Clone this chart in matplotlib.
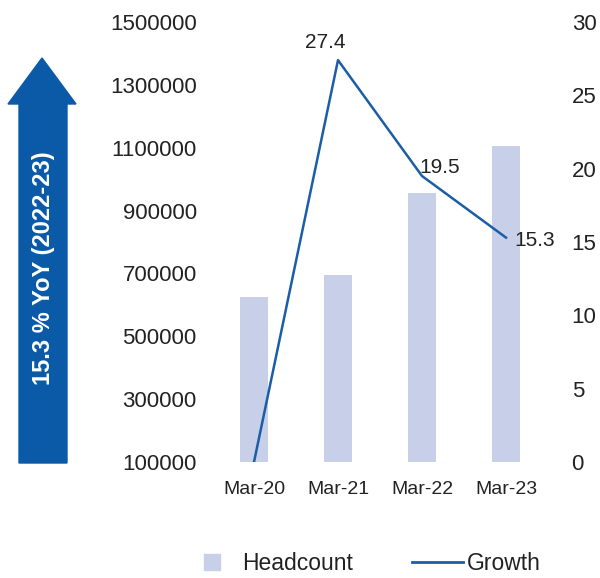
import matplotlib
matplotlib.use("Agg")
import matplotlib.pyplot as plt
import numpy as np
from matplotlib.lines import Line2D
from matplotlib.patches import Polygon
from matplotlib.ticker import FuncFormatter

plt.rcParams['font.family'] = ['Liberation Sans', 'DejaVu Sans']

periods = ["Mar-20", "Mar-21", "Mar-22", "Mar-23"]
headcount = [625000, 695000, 955000, 1105000]
growth = [0, 27.4, 19.5, 15.3]
growth_labels = [None, "27.4", "19.5", "15.3"]
callout = "15.3 % YoY (2022-23)"

bar_colour = "#c8cfe8"
line_colour = "#1a5ea8"
arrow_colour = "#0b5aa8"
text_colour = "#222222"

W, H = 600, 578
fig = plt.figure(figsize=(W / 100, H / 100), dpi=100)
ax = fig.add_axes([212 / W, 116 / H, 336 / W, 440 / H])
ax2 = ax.twinx()

x = np.arange(len(periods))
base = 100000
ax.bar(x, np.array(headcount) - base, bottom=base, width=0.33,
       color=bar_colour, zorder=1)
ax.set_ylim(base, 1500000)
ax.set_yticks(np.arange(100000, 1500001, 200000))
ax.yaxis.set_major_formatter(FuncFormatter(lambda v, p: f"{int(v)}"))
ax.set_xlim(-0.5, 3.5)
ax.set_xticks(x)
ax.set_xticklabels(periods)

ax2.plot(x, growth, color=line_colour, linewidth=1.8, zorder=3)
ax2.set_ylim(0, 30)
ax2.set_yticks(np.arange(0, 31, 5))

# value labels on the growth line
offsets = [None, (-9, 6), (-2, -1), (6, -2)]
aligns = [None, ("center", "bottom"), ("left", "bottom"), ("left", "center")]
for xi, yi, lab, off, al in zip(x, growth, growth_labels, offsets, aligns):
    if lab is None:
        continue
    ax2.annotate(lab, (xi, yi), xytext=off, textcoords="offset points",
                 ha=al[0], va=al[1], fontsize=15, color=text_colour)

for a in (ax, ax2):
    for s in a.spines.values():
        s.set_visible(False)
    a.tick_params(length=0, labelsize=16, labelcolor=text_colour)
ax.tick_params(axis="x", labelsize=14, pad=14)
ax.tick_params(axis="y", pad=11)
ax2.tick_params(axis="y", pad=17)

# big up-arrow callout on the left
pts = [(19, 463), (67, 463), (67, 104), (76, 104), (42, 58), (8, 104), (19, 104)]
arrow = Polygon([(px / W, 1 - py / H) for px, py in pts], closed=True,
                transform=fig.transFigure, color=arrow_colour, zorder=0)
fig.patches.append(arrow)
fig.text(44 / W, 1 - 268 / H, callout, rotation=90, color="white",
         fontsize=17, fontweight="bold", ha="center", va="center")

handles = [Line2D([], [], marker="s", linestyle="none", markersize=11,
                  color=bar_colour),
           Line2D([], [], color=line_colour, linewidth=2)]
fig.legend(handles, ["Headcount", "Growth"], loc="center",
           bbox_to_anchor=(364 / W, 1 - 564 / H), ncol=2, frameon=False,
           fontsize=16.5, handlelength=2.2, handletextpad=0.2,
           columnspacing=2.6, labelcolor=text_colour)

fig.savefig("out.png", dpi=100)
